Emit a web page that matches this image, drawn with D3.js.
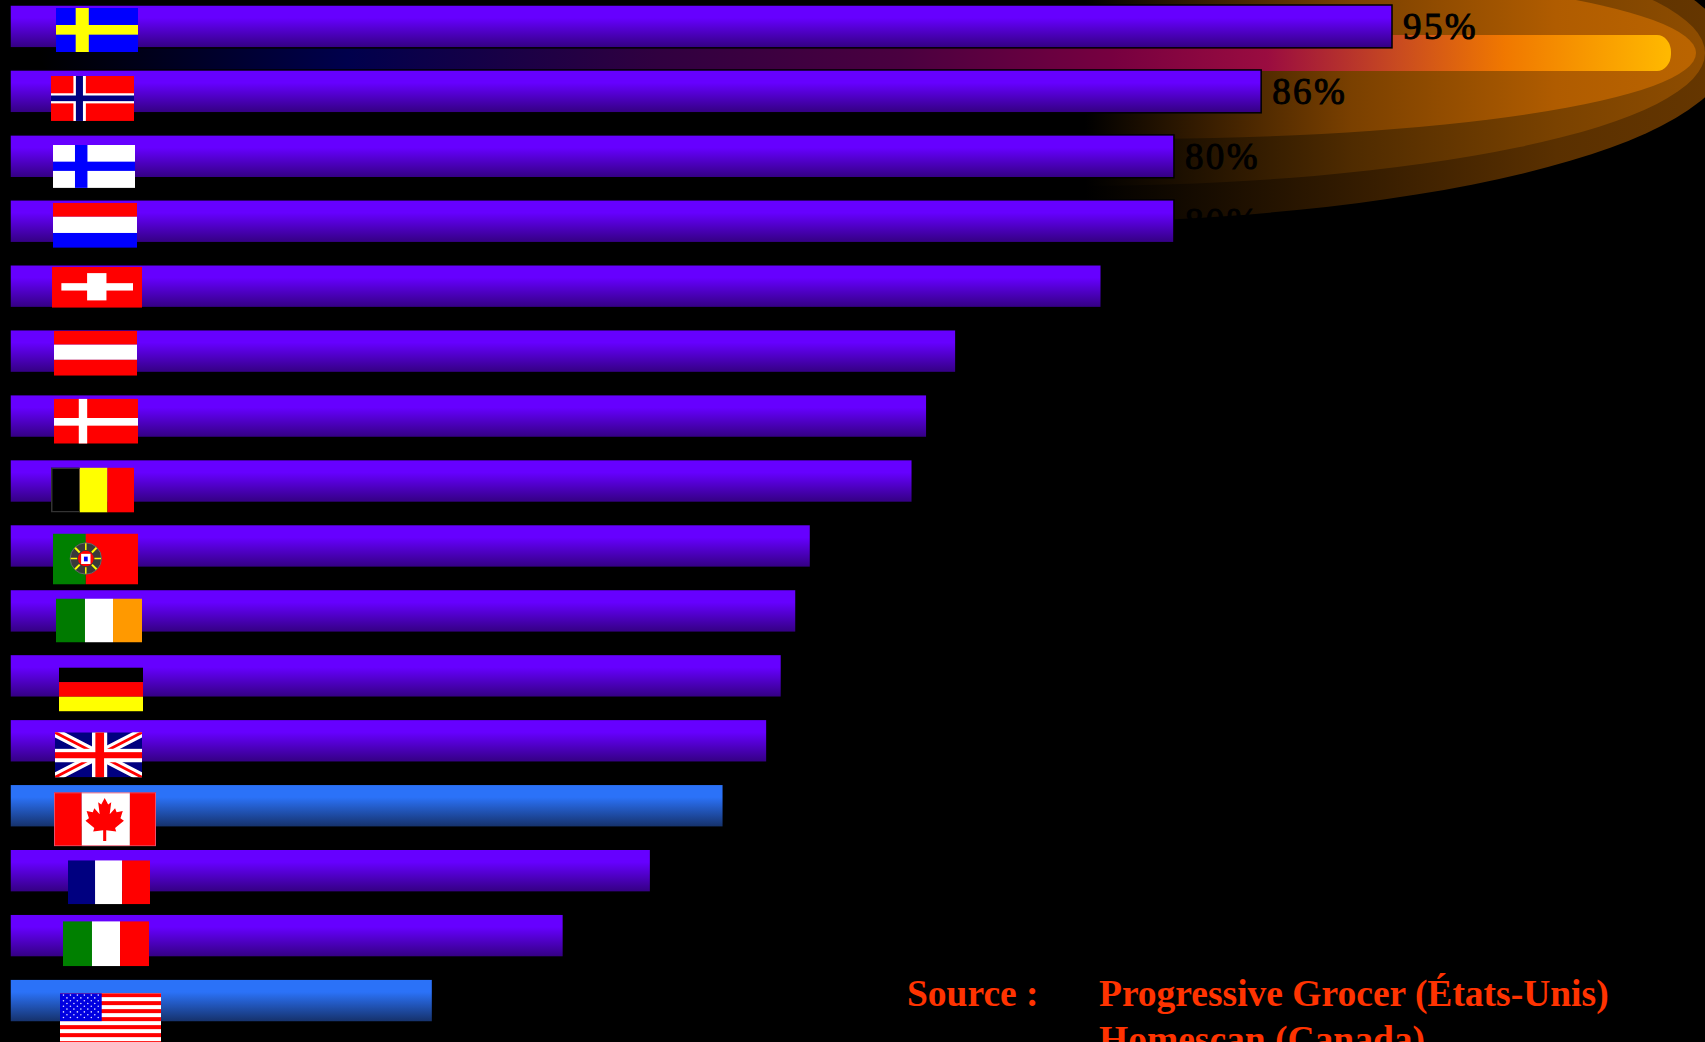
<!DOCTYPE html>
<html lang="fr">
<head>
<meta charset="utf-8">
<title>Parts de marché</title>
<script src="https://cdn.jsdelivr.net/npm/d3@7/dist/d3.min.js"></script>
<style>
  html, body { margin: 0; padding: 0; background: #000; overflow: hidden; }
  svg { display: block; }
  text { font-family: "Liberation Serif", "Times New Roman", serif; }
</style>
</head>
<body>
<script>
// Countries from top to bottom, with their share in percent.
const countries = ["Suède", "Norvège", "Finlande", "Pays-Bas", "Suisse", "Autriche", "Danemark", "Belgique",
  "Portugal", "Irlande", "Allemagne", "Royaume-Uni", "Canada", "France", "Italie", "États-Unis"];
const shares = [95, 86, 80, 80, 75, 65, 63, 62, 55, 54, 53, 52, 49, 44, 38, 29];
const northAmerica = ["Canada", "États-Unis"];
const labelledCountries = ["Suède", "Norvège", "Finlande", "Pays-Bas"];
const sourceLabel = "Source :";
const sourceLines = ["Progressive Grocer (États-Unis)", "Homescan (Canada)"];

const W = 1705, H = 1042;
const svg = d3.select("body").append("svg").attr("width", W).attr("height", H)
  .attr("viewBox", `0 0 ${W} ${H}`);
const defs = svg.append("defs");
svg.append("rect").attr("width", W).attr("height", H).attr("fill", "#000");

const x = d3.scaleLinear().domain([0, 95]).range([11, 1392]);
const y = d3.scaleBand().domain(countries).range([5, 1022]).paddingInner(0.34).paddingOuter(0).align(0);
const barStart = x(0) - 1;

function gradient(id, stops, attrs) {
  const g = defs.append("linearGradient").attr("id", id);
  Object.entries(attrs).forEach(([k, v]) => g.attr(k, v));
  g.selectAll("stop").data(stops).join("stop")
    .attr("offset", d => d[0]).attr("stop-color", d => d[1]);
}

/* ---- Glow behind the top bars: three nested ellipses fading to black on the left ---- */
const hAxis = { gradientUnits: "userSpaceOnUse", x1: 1085, x2: 1705, y1: 0, y2: 0 };
const glowLayers = [
  { id: "glowOuter", cx: 1029, rx: 700, ry: 170,
    stops: [[0, "#000"], [0.43, "#331b00"], [0.76, "#5a3000"], [1, "#653600"]] },
  { id: "glowMiddle", cx: 1072, rx: 633, ry: 133,
    stops: [[0, "#000"], [0.43, "#4f2b00"], [0.76, "#7a4200"], [1, "#8f4d00"]] },
  { id: "glowInner", cx: 1131, rx: 565, ry: 86,
    stops: [[0, "#000"], [0.43, "#7a4000"], [0.76, "#b05c00"], [1, "#bb6500"]] }
];
glowLayers.forEach(layer => {
  gradient(layer.id, layer.stops, hAxis);
  svg.append("ellipse").attr("cx", layer.cx).attr("cy", 53).attr("rx", layer.rx).attr("ry", layer.ry)
    .attr("fill", `url(#${layer.id})`);
});

// The bright streak that ends in yellow.
const streakStart = 40, streakEnd = 1671;
const streakStops = [[40, "#000"], [347, "#00004c"], [656, "#300040"], [900, "#4a0040"], [1112, "#770040"],
  [1267, "#9a0c40"], [1397, "#c84a20"], [1505, "#f07800"], [1668, "#ffb800"]];
gradient("streak", streakStops.map(([px, c]) => [(px - streakStart) / (streakEnd - streakStart), c]),
  { gradientUnits: "userSpaceOnUse", x1: streakStart, x2: streakEnd, y1: 0, y2: 0 });
svg.append("rect").attr("x", streakStart).attr("y", 35).attr("width", streakEnd - streakStart).attr("height", 36)
  .attr("rx", 14).attr("ry", 17).attr("fill", "url(#streak)");

/* ---- Bars ---- */
const vAxis = { x1: 0, x2: 0, y1: 0, y2: 1 };
gradient("barViolet", [[0, "#6600ff"], [0.3, "#6600ff"], [1, "#330080"]], vAxis);
gradient("barBlue", [[0, "#2b72f8"], [0.3, "#2b72f8"], [1, "#153068"]], vAxis);

const rows = countries.map((c, i) => ({ country: c, share: shares[i] }));
svg.append("g").selectAll("rect").data(rows).join("rect")
  .attr("x", barStart)
  .attr("y", d => y(d.country))
  .attr("width", d => x(d.share) - barStart)
  .attr("height", y.bandwidth())
  .attr("fill", d => northAmerica.includes(d.country) ? "url(#barBlue)" : "url(#barViolet)")
  .attr("stroke", "#000").attr("stroke-width", 1.5);

svg.append("g").selectAll("text")
  .data(rows.filter(d => labelledCountries.includes(d.country))).join("text")
  .attr("x", d => x(d.share) + 11)
  .attr("y", d => y(d.country) + y.bandwidth() / 2 + 12.5)
  .attr("font-size", 37).attr("letter-spacing", 2.4).attr("fill", "#000")
  .attr("stroke", "#000").attr("stroke-width", 1)
  .text(d => d.share + "%");

/* ---- Flags ---- */
const RED = "#ff0000", WHITE = "#ffffff", NAVY = "#000080", BLUE = "#0000ff", YELLOW = "#ffff00", GREEN = "#008000";

function bands(g, w, h, colors, vertical, cuts) {
  const edges = cuts || colors.map((_, i) => i / colors.length).concat(1);
  colors.forEach((c, i) => {
    const a = edges[i], b = edges[i + 1];
    g.append("rect").attr("fill", c)
      .attr("x", vertical ? a * w : 0).attr("y", vertical ? 0 : a * h)
      .attr("width", vertical ? (b - a) * w : w).attr("height", vertical ? h : (b - a) * h);
  });
}
function cross(g, w, h, color, x0, x1, y0, y1) {
  g.append("rect").attr("fill", color).attr("x", x0 * w).attr("width", (x1 - x0) * w).attr("height", h);
  g.append("rect").attr("fill", color).attr("y", y0 * h).attr("height", (y1 - y0) * h).attr("width", w);
}
function background(g, w, h, color) {
  g.append("rect").attr("width", w).attr("height", h).attr("fill", color);
}

const leafHalf = [[0, 0], [0.09, 0.15], [0.17, 0.10], [0.13, 0.38], [0.27, 0.24], [0.31, 0.33], [0.47, 0.30],
  [0.41, 0.47], [0.5, 0.53], [0.27, 0.70], [0.3, 0.78], [0.04, 0.75], [0.04, 1]];

const painters = {
  "Suède": (g, w, h) => { background(g, w, h, BLUE); cross(g, w, h, YELLOW, 0.24, 0.40, 0.386, 0.606); },
  "Norvège": (g, w, h) => {
    background(g, w, h, RED);
    cross(g, w, h, WHITE, 0.27, 0.42, 0.385, 0.61);
    cross(g, w, h, NAVY, 0.30, 0.385, 0.435, 0.56);
  },
  "Finlande": (g, w, h) => { background(g, w, h, WHITE); cross(g, w, h, BLUE, 0.268, 0.42, 0.39, 0.605); },
  "Pays-Bas": (g, w, h) => bands(g, w, h, [RED, WHITE, BLUE], false, [0, 0.31, 0.67, 1]),
  "Suisse": (g, w, h) => {
    background(g, w, h, RED);
    g.append("rect").attr("fill", WHITE).attr("x", 0.104 * w).attr("width", 0.796 * w).attr("y", 0.40 * h).attr("height", 0.18 * h);
    g.append("rect").attr("fill", WHITE).attr("x", 0.39 * w).attr("width", 0.215 * w).attr("y", 0.155 * h).attr("height", 0.665 * h);
  },
  "Autriche": (g, w, h) => bands(g, w, h, [RED, WHITE, RED], false, [0, 0.31, 0.647, 1]),
  "Danemark": (g, w, h) => { background(g, w, h, RED); cross(g, w, h, WHITE, 0.295, 0.395, 0.43, 0.60); },
  "Belgique": (g, w, h) => {
    bands(g, w, h, ["#000", YELLOW, RED], true, [0, 0.345, 0.68, 1]);
    g.append("path").attr("d", `M${0.345 * w} 0.75H0.75V${h - 0.75}H${0.345 * w}`)
      .attr("fill", "none").attr("stroke", "#333").attr("stroke-width", 1.5);
  },
  "Portugal": (g, w, h) => {
    bands(g, w, h, [GREEN, RED], true, [0, 0.386, 1]);
    const e = g.append("g").attr("transform", `translate(${0.386 * w},${0.49 * h})`);
    const r = 0.184 * w;
    e.append("circle").attr("r", r).attr("fill", "#3a3a3a").attr("stroke", "#666").attr("stroke-width", 1);
    d3.range(8).forEach(k => {
      const a = k * Math.PI / 4;
      e.append("line").attr("x1", Math.cos(a) * r * 0.55).attr("y1", Math.sin(a) * r * 0.55)
        .attr("x2", Math.cos(a) * r * 0.97).attr("y2", Math.sin(a) * r * 0.97)
        .attr("stroke", YELLOW).attr("stroke-width", k % 2 ? 2 : 1.5);
    });
    e.append("circle").attr("r", r * 0.5).attr("fill", RED);
    e.append("rect").attr("x", -r * 0.3).attr("y", -r * 0.3).attr("width", r * 0.6).attr("height", r * 0.65).attr("fill", WHITE);
    e.append("rect").attr("x", -r * 0.12).attr("y", -r * 0.12).attr("width", r * 0.24).attr("height", r * 0.3).attr("fill", BLUE);
  },
  "Irlande": (g, w, h) => bands(g, w, h, ["#007a00", WHITE, "#ff9900"], true, [0, 0.337, 0.663, 1]),
  "Allemagne": (g, w, h) => bands(g, w, h, ["#000", RED, YELLOW], false),
  "Royaume-Uni": (g, w, h) => {
    background(g, w, h, NAVY);
    const diag = (c, sw) => g.append("path").attr("d", `M0 0L${w} ${h}M${w} 0L0 ${h}`).attr("stroke", c).attr("stroke-width", sw);
    diag(WHITE, 0.2 * h);
    diag(RED, 0.06 * h);
    cross(g, w, h, WHITE, 0.425, 0.60, 0.366, 0.664);
    cross(g, w, h, RED, 0.464, 0.564, 0.44, 0.575);
  },
  "Canada": (g, w, h) => {
    bands(g, w, h, [RED, WHITE, RED], true, [0, 0.272, 0.744, 1]);
    const lw = 0.377 * w, lh = 0.795 * h, cx = 0.497 * w, top = 0.106 * h;
    const right = leafHalf.map(([a, b]) => [cx + a * lw, top + b * lh]);
    const left = leafHalf.map(([a, b]) => [cx - a * lw, top + b * lh]).reverse();
    g.append("path").attr("d", d3.line()(right.concat(left)) + "Z").attr("fill", RED);
    g.append("rect").attr("x", 0.5).attr("y", 0.5).attr("width", w - 1).attr("height", h - 1)
      .attr("fill", "none").attr("stroke", "#e8506a").attr("stroke-width", 1);
  },
  "France": (g, w, h) => bands(g, w, h, [NAVY, WHITE, RED], true, [0, 0.33, 0.66, 1]),
  "Italie": (g, w, h) => bands(g, w, h, [GREEN, WHITE, RED], true, [0, 0.337, 0.663, 1]),
  "États-Unis": (g, w, h) => {
    const stripe = h / 13;
    background(g, w, h, WHITE);
    d3.range(0, 13, 2).forEach(k =>
      g.append("rect").attr("fill", RED).attr("y", k * stripe).attr("width", w).attr("height", stripe));
    const cw = 0.413 * w, ch = 7 * stripe;
    g.append("rect").attr("width", cw).attr("height", ch).attr("fill", "#0000e0");
    d3.range(9).forEach(row => {
      const n = row % 2 ? 5 : 6, off = row % 2 ? 1 : 0.5;
      d3.range(n).forEach(col =>
        g.append("circle").attr("r", 0.8).attr("fill", "#ddddff")
          .attr("cx", (col + off) * cw / 6).attr("cy", (row + 0.7) * ch / 10));
    });
  }
};

// Flag placement along each bar: offset from the bar's origin, then size.
const flagBoxes = {
  "Suède": [45, 3, 82, 44], "Norvège": [40, 6, 83, 45], "Finlande": [42, 10, 82, 43], "Pays-Bas": [42, 3, 84, 45],
  "Suisse": [41, 2, 90, 41], "Autriche": [43, 1, 83, 45], "Danemark": [43, 4, 84, 45], "Belgique": [40, 8, 83, 45],
  "Portugal": [42, 9, 85, 51], "Irlande": [45, 9, 86, 44], "Allemagne": [48, 13, 84, 44], "Royaume-Uni": [44, 13, 87, 45],
  "Canada": [43, 8, 102, 54], "France": [57, 11, 82, 44], "Italie": [52, 7, 86, 45], "États-Unis": [49, 14, 101, 52]
};

const flags = svg.append("g");
countries.forEach((c, i) => {
  const [dx, dy, w, h] = flagBoxes[c];
  const clipId = "flag" + i;
  defs.append("clipPath").attr("id", clipId).append("rect").attr("width", w).attr("height", h);
  const g = flags.append("g")
    .attr("transform", `translate(${x(0) + dx},${y(c) + dy})`)
    .attr("clip-path", `url(#${clipId})`);
  painters[c](g, w, h);
});

/* ---- Source note ---- */
const note = svg.append("g").attr("fill", "#ff3300").attr("font-size", 37.5).attr("font-weight", "bold");
note.append("text").attr("x", 907).attr("y", 1006).text(sourceLabel);
note.selectAll("text.line").data(sourceLines).join("text").attr("class", "line")
  .attr("x", 1099).attr("y", (d, i) => 1006 + i * 46).text(d => d);
</script>
</body>
</html>
